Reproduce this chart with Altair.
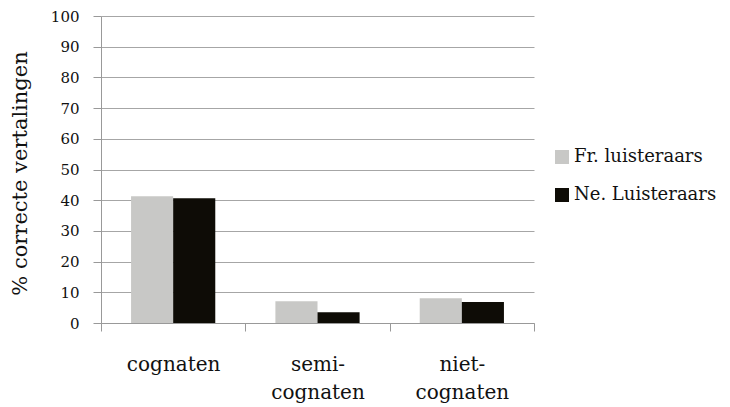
import altair as alt
import pandas as pd

categories = ["cognaten", "semi-cognaten", "niet-cognaten"]
series = ["Fr. luisteraars", "Ne. Luisteraars"]
fr_values = [41.3, 7.1, 8.1]
ne_values = [40.6, 3.5, 6.8]
colors = ["#c8c8c6", "#0e0c06"]

rows = []
for c, f, n in zip(categories, fr_values, ne_values):
    rows.append({"categorie": c, "groep": series[0], "waarde": f})
    rows.append({"categorie": c, "groep": series[1], "waarde": n})
df = pd.DataFrame(rows)

FONT = "DejaVu Serif"
TXT = "#111111"

chart = alt.Chart(df).mark_bar().encode(
    x=alt.X("categorie:N", sort=categories, title=None,
            scale=alt.Scale(paddingInner=0, paddingOuter=0),
            axis=alt.Axis(labelAngle=0, tickBand="extent", grid=False,
                          domainColor="#999999", tickColor="#999999", tickSize=8,
                          labelFont=FONT, labelFontSize=20, labelColor=TXT,
                          labelBaseline="middle", labelPadding=33, labelLineHeight=28,
                          labelExpr="indexof(datum.label, '-') > 0 ? [substring(datum.label, 0, indexof(datum.label, '-') + 1), substring(datum.label, indexof(datum.label, '-') + 1)] : datum.label")),
    xOffset=alt.XOffset("groep:N", sort=series,
                        scale=alt.Scale(paddingInner=0, paddingOuter=0.714)),
    y=alt.Y("waarde:Q", title="% correcte vertalingen",
            scale=alt.Scale(domain=[0, 100]),
            axis=alt.Axis(values=list(range(0, 101, 10)), grid=True, gridColor="#a6a6a6",
                          domainColor="#999999", tickColor="#999999", tickSize=8,
                          labelFont=FONT, labelFontSize=15, labelColor=TXT,
                          labelPadding=14,
                          titleFont=FONT, titleFontSize=21, titleFontWeight="normal",
                          titleColor=TXT, titleX=-81, titleY=157,
                          titleAngle=270, titleAlign="center", titleBaseline="middle")),
    color=alt.Color("groep:N", sort=series,
                    scale=alt.Scale(domain=series, range=colors),
                    legend=alt.Legend(title=None, symbolType="square", symbolSize=196,
                                      symbolStrokeWidth=0, orient="none",
                                      legendX=452, legendY=132, padding=0,
                                      labelFont=FONT, labelFontSize=18, labelColor=TXT,
                                      labelOffset=3, rowPadding=20, labelLimit=400)),
).properties(
    width=433, height=307,
    autosize=alt.AutoSizeParams(type="none"),
    padding={"left": 93, "top": 8, "right": 188, "bottom": 84},
).configure_view(stroke=None)

chart.save("out.html", embed_options={"renderer": "svg", "actions": False})
